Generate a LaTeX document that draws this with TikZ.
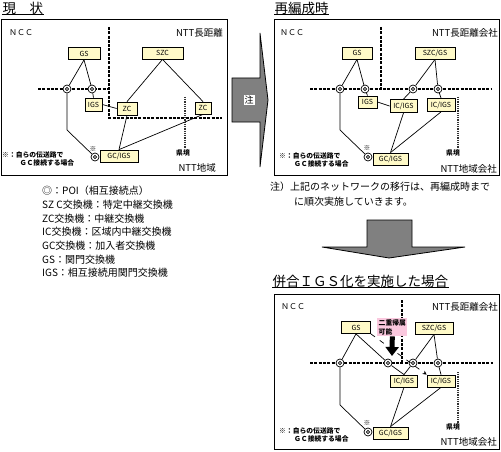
\documentclass[tikz,border=0pt]{standalone}
\usepackage{fontspec}
\setmainfont{Noto Sans CJK JP}
\usepackage{tikz}
\usetikzlibrary{arrows.meta, positioning, calc}
\definecolor{boxcream}{RGB}{255,250,200}
\definecolor{dualpink}{RGB}{250,200,222}
\newcommand{\boxfont}{\fontsize{7}{7}\selectfont}
\newcommand{\notefont}{\fontsize{6.8}{8.6}\selectfont}
\newcommand{\regionfont}{\fontsize{9.5}{10}\selectfont}
\newcommand{\titlefont}{\fontsize{13.5}{14}\selectfont}
\tikzstyle{exch} = [draw, fill=boxcream, font=\boxfont, inner sep=0pt, minimum height=12pt, line width=0.8pt]
\tikzstyle{poi} = [circle, draw, fill=white, minimum size=8pt, inner sep=0pt, line width=0.7pt, path picture={\draw[line width=0.7pt] (path picture bounding box.center) circle (1.7pt);}]
\tikzstyle{link} = [line width=0.7pt]
\tikzstyle{border} = [line width=1.6pt, dash pattern=on 3pt off 1.3pt]
\tikzstyle{pref} = [line width=1.8pt, dash pattern=on 0.9pt off 0.9pt, black!80]
\tikzstyle{panel} = [line width=1pt]
\tikzstyle{bigarrow} = [draw, fill=black!50, line width=0.8pt]
\tikzstyle{ttl} = [anchor=west, inner sep=0.5pt, font=\titlefont]
\begin{document}
\begin{tikzpicture}[x=1pt, y=-1pt]
    \useasboundingbox (0,0) rectangle (501,452);

    % Titles
    \node[ttl] (ttlA) at (2,8) {現　状};
    \node[ttl] (ttlB) at (274,8) {再編成時};
    \node[ttl] (ttlC) at (272,281) {併合ＩＧＳ化を実施した場合};
    \draw[line width=1pt] (ttlA.south west) -- (ttlA.south east);
    \draw[line width=1pt] (ttlB.south west) -- (ttlB.south east);
    \draw[line width=1pt] (ttlC.south west) -- (ttlC.south east);

    % Panels
    \draw[panel] (1,20) rectangle (227,175);
    \draw[panel] (274,20) rectangle (499,175);
    \draw[panel] (274,294) rectangle (499,449);

    % Present state (left)
    \node[anchor=west, inner sep=0pt, font=\fontsize{8}{8}\selectfont] (nccA) at (9,33) {ＮＣＣ};
    \node[anchor=east, inner sep=0pt, font=\regionfont] (nttLA) at (223,33) {NTT長距離};
    \node[anchor=east, inner sep=0pt, font=\regionfont] (nttRA) at (216,168) {NTT地域};
    \draw[border] (109,27) -- (109,118) -- (222,118);
    \draw[border] (38,89) -- (108,89);
    \draw[pref] (185,97) -- (185,149);
    \node[anchor=west, inner sep=0pt, font=\notefont\bfseries] (kenA) at (176,153) {県境};

    \node[exch, minimum width=32pt] (gsA) at (84,53.5) {GS};
    \node[exch, minimum width=41pt] (szcA) at (162.5,53) {SZC};
    \node[exch, minimum width=17pt, minimum height=13pt] (igsA) at (93.5,104.5) {IGS};
    \node[exch, minimum width=20pt, minimum height=13pt] (zcA1) at (127,108.5) {ZC};
    \node[exch, minimum width=16pt] (zcA2) at (203,108) {ZC};
    \node[exch, minimum width=38pt] (gcA) at (119,156) {GC/IGS};
    \node[poi] (poiA1) at (67,89) {};
    \node[poi] (poiA2) at (92,89) {};
    \node[poi] (poiA3) at (95,157) {};
    \node[inner sep=0pt, font=\notefont\bfseries] (astA) at (93,149) {※};

    \draw[link] (gsA.south) -- (poiA1);
    \draw[link] (gsA.south) -- (poiA2);
    \draw[link] (poiA2) -- (igsA.north);
    \draw[link] (igsA.east) -- (zcA1.west);
    \draw[link] (szcA.south) -- (zcA1.north);
    \draw[link] (szcA.south) -- (zcA2.north);
    \draw[link] (zcA1.south) -- (gcA.north);
    \draw[link] (zcA2.south) -- (gcA.north);
    \draw[link] (poiA1) -- ++(0,41) -- (poiA3);

    \node[anchor=north west, align=left, inner sep=0pt, font=\notefont\bfseries] (memoA) at (2,151) {※：自らの伝送路で\\\hspace*{2.6em}ＧＣ接続する場合};

    % Legend
    \node[anchor=north west, align=left, inner sep=0pt, font=\fontsize{10}{13.7}\selectfont] (legend) at (42,186) {◎：POI（相互接続点）\\SZ C交換機：特定中継交換機\\ZC交換機：中継交換機\\IC交換機：区域内中継交換機\\GC交換機：加入者交換機\\GS：関門交換機\\IGS：相互接続用関門交換機};

    % Big arrow to the right
    \draw[bigarrow] (232,78) -- (260,78) -- (260,33) -- (268,100) -- (260,167) -- (260,122) -- (232,122) -- cycle;
    \node[fill=white, inner sep=1pt, font=\fontsize{9}{9}\selectfont] (chu) at (249,100) {注};

    % At reorganization (right top)
    \node[anchor=west, inner sep=0pt, font=\fontsize{8}{8}\selectfont] (nccB) at (280,33) {ＮＣＣ};
    \node[anchor=east, inner sep=0pt, font=\regionfont] (nttLB) at (498,33) {NTT長距離会社};
    \node[anchor=east, inner sep=0pt, font=\regionfont] (nttRB) at (497,169) {NTT地域会社};
    \draw[border] (381,27) -- (381,88);
    \draw[border] (310,89) -- (492,89);
    \draw[pref] (458,97) -- (458,149);
    \node[anchor=west, inner sep=0pt, font=\notefont\bfseries] (kenB) at (446,153) {県境};

    \node[exch, minimum width=30pt] (gsB) at (357,53) {GS};
    \node[exch, minimum width=40pt] (szcB) at (435,53) {SZC/GS};
    \node[exch, minimum width=19pt] (igsB) at (367.5,102) {IGS};
    \node[exch, minimum width=27pt, minimum height=13pt] (icB1) at (403.5,106) {IC/IGS};
    \node[exch, minimum width=28pt, minimum height=13pt] (icB2) at (441,105) {IC/IGS};
    \node[exch, minimum width=35pt] (gcB) at (390.5,159) {GC/IGS};
    \node[poi] (poiB1) at (340,89) {};
    \node[poi] (poiB2) at (365,89) {};
    \node[poi] (poiB3) at (413,89) {};
    \node[poi] (poiB4) at (438,89) {};
    \node[poi] (poiB5) at (368,157) {};
    \node[inner sep=0pt, font=\notefont\bfseries] (astB) at (367,148) {※};

    \draw[link] (gsB.south) -- (poiB1);
    \draw[link] (gsB.south) -- (poiB2);
    \draw[link] (poiB2) -- (igsB.north);
    \draw[link] (igsB.east) -- (icB1.west);
    \draw[link] (szcB.south) -- (poiB3) -- (icB1.north);
    \draw[link] (szcB.south) -- (poiB4) -- (icB2.north);
    \draw[link] (icB1.south) -- (gcB.north);
    \draw[link] (icB2.south) -- (gcB.north);
    \draw[link] (poiB1) -- ++(0,41) -- (poiB5);

    \node[anchor=north west, align=left, inner sep=0pt, font=\notefont\bfseries] (memoB) at (279,152) {※：自らの伝送路で\\\hspace*{2.2em}ＧＣ接続する場合};

    % Note and arrow down
    \node[anchor=north west, align=left, inner sep=0pt, font=\fontsize{10}{15}\selectfont] (note) at (270,182) {注）上記のネットワークの移行は、再編成時まで\\\hspace*{2.4em}に順次実施していきます。};
    \draw[bigarrow] (367,220) -- (412,220) -- (412,247) -- (465,247) -- (389,258) -- (322,247) -- (367,247) -- cycle;

    % Merged IGS (right bottom)
    \node[anchor=west, inner sep=0pt, font=\fontsize{8}{8}\selectfont] (nccC) at (281,307) {ＮＣＣ};
    \node[anchor=east, inner sep=0pt, font=\regionfont] (nttLC) at (498,307) {NTT長距離会社};
    \node[anchor=east, inner sep=0pt, font=\regionfont] (nttRC) at (497,442) {NTT地域会社};
    \draw[border] (402,300) -- (402,362);
    \draw[border] (310,363) -- (493,363);
    \draw[pref] (458,372) -- (458,423);
    \node[anchor=west, inner sep=0pt, font=\notefont\bfseries] (kenC) at (446,427) {県境};

    \node[exch, minimum width=29pt] (gsC) at (356,327.5) {GS};
    \node[exch, minimum width=38pt] (szcC) at (434,328) {SZC/GS};
    \node[exch, minimum width=27pt] (icC1) at (404,381) {IC/IGS};
    \node[exch, minimum width=28pt] (icC2) at (441,381) {IC/IGS};
    \node[exch, minimum width=35pt] (gcC) at (390.5,433) {GC/IGS};
    \node[poi] (poiC1) at (340,363) {};
    \node[poi] (poiC2) at (388,363) {};
    \node[poi] (poiC3) at (413,363) {};
    \node[poi] (poiC4) at (438,363) {};
    \node[poi] (poiC5) at (368,432) {};
    \node[inner sep=0pt, font=\notefont\bfseries] (astC) at (367,423) {※};

    \draw[link] (gsC.south) -- (poiC1);
    \draw[link] (gsC.south) -- (poiC2) -- (icC1.north);
    \draw[link] (szcC.south) -- (poiC3) -- (icC1.north);
    \draw[link] (szcC.south) -- (poiC4) -- (icC2.north);
    \draw[link] (icC1.south) -- (gcC.north);
    \draw[link] (icC2.south) -- (gcC.north);
    \draw[link] (poiC1) -- ++(0,42) -- (poiC5);
    \draw[link, dash pattern=on 5pt off 6pt, -{Stealth[length=4pt, width=4pt]}] (gsC.south east) -- (icC2.north west);

    \node[anchor=north west, fill=dualpink, align=left, inner sep=1.5pt, font=\notefont\bfseries] (dual) at (377,318) {二重帰属\\可能};
    \coordinate (dualTip) at (392,356);
    \draw[line width=5pt, -{Triangle[length=9pt, width=13pt]}] (dual.south) -- (dualTip);

    \node[anchor=north west, align=left, inner sep=0pt, font=\notefont\bfseries] (memoC) at (279,427) {※：自らの伝送路で\\\hspace*{2.2em}ＧＣ接続する場合};
\end{tikzpicture}
\end{document}
